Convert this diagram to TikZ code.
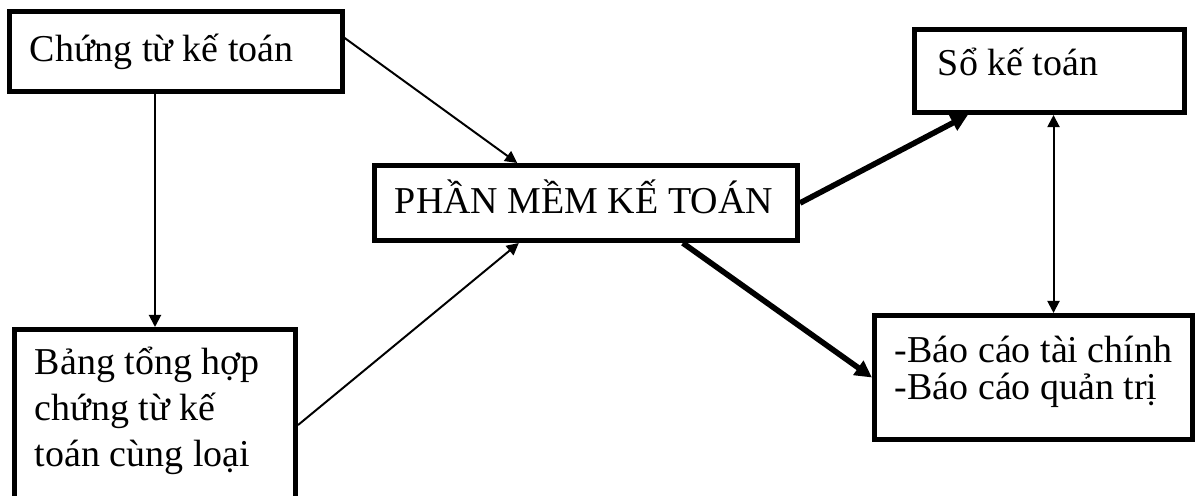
\documentclass[tikz,border=0pt]{standalone}
\usepackage{fontspec}
\setmainfont{Liberation Serif}
\usetikzlibrary{arrows.meta}

% left-aligned lines in a box of given width, baseline on the first line
\newcommand{\boxtext}[2]{\makebox[#1][l]{\begin{tabular}[t]{@{}l@{}}#2\end{tabular}}}

\begin{document}
\begin{tikzpicture}[x=0.025cm, y=-0.025cm,
		hop/.style={draw, line width=0.125cm, inner sep=0pt, font=\fontsize{27pt}{32.6pt}\selectfont},
		mui/.style={->, >={Triangle[length=0.3cm, width=0.3cm]}, line width=1.4pt},
		muidam/.style={->, >={Triangle[length=0.42cm, width=0.42cm]}, line width=4pt}]
			\useasboundingbox (0,0) rectangle (1195,495);

			% boxes
			\node[hop, minimum width=8.3125cm, minimum height=1.975cm, text height=0.7cm, text depth=0.22cm] (chungtu) at (175.75,51.5) {\boxtext{7.29cm}{Chứng từ kế toán}};
			\node[hop, minimum width=7.025cm, minimum height=4.775cm, text height=0.7cm, text depth=3.2cm] (banghop) at (155,425) {\boxtext{6cm}{Bảng tổng hợp\\chứng từ kế\\toán cùng loại}};
			\node[hop, minimum width=10.575cm, minimum height=1.875cm, text height=0.75cm, text depth=0.25cm] (phanmem) at (586,203) {\boxtext{9.55cm}{PHẦN MỀM KẾ TOÁN}};
			\node[hop, minimum width=6.75cm, minimum height=2.075cm, text height=0.7cm, text depth=0.5cm] (soketoan) at (1049.5,71) {\boxtext{5.575cm}{Sổ kế toán}};
			\node[hop, minimum width=7.95cm, minimum height=3.1cm, text height=0.7cm, text depth=1.475cm, font=\fontsize{27pt}{27pt}\selectfont] (baocao) at (1033.5,377.5) {\boxtext{6.925cm}{-Báo cáo tài chính\\-Báo cáo quản trị}};

			% thin arrows
			\draw[mui] (banghop.north |- chungtu.south) -- (banghop.north);
			\draw[mui] ([yshift=0.34cm]chungtu.east) -- ([xshift=-1.72cm]phanmem.north);
			\draw[mui] (banghop.east) -- ([xshift=-1.68cm]phanmem.south);
			\draw[mui, <->] ([xshift=0.1cm]soketoan.south) -- ([xshift=0.1cm]soketoan.south |- baocao.north);
			% thick arrows
			\draw[muidam] (phanmem.east) -- ([xshift=-2.04cm]soketoan.south);
			\draw[muidam] ([xshift=2.42cm]phanmem.south) -- (baocao.west);
		\end{tikzpicture}
\end{document}
